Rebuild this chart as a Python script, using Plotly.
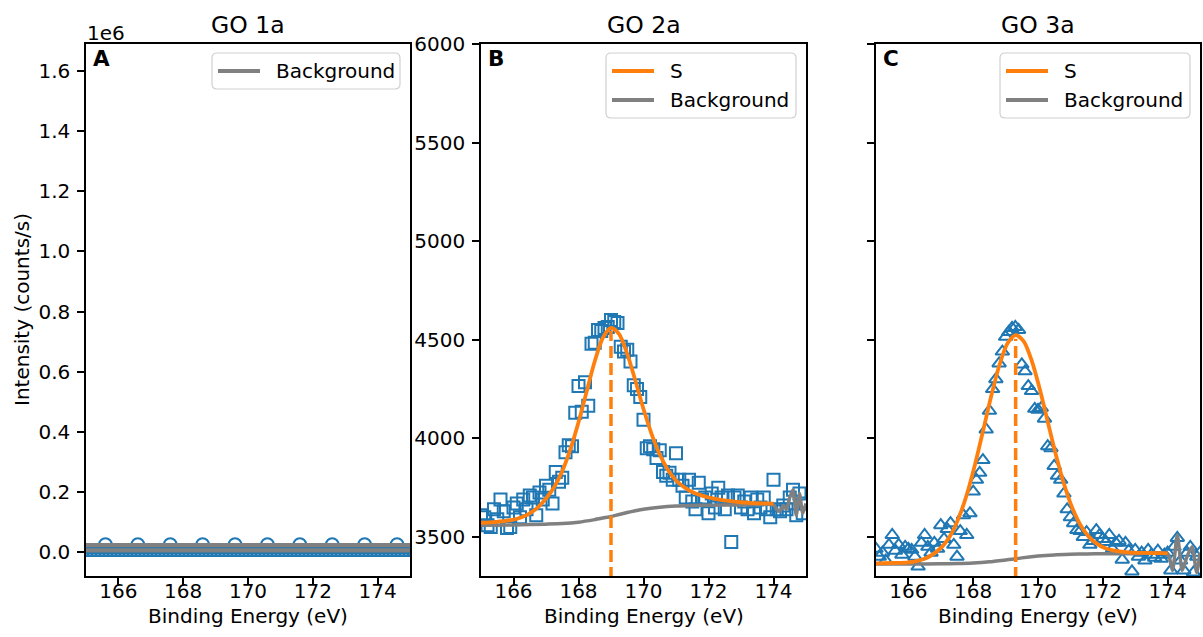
import plotly.graph_objects as go

W, H = 1203, 637
BLUE = "#1f77b4"
ORANGE = "#ff7f0e"
GRAY = "#808080"
FONT = "DejaVu Sans"
TICK_SIZE = 20
TITLE_SIZE = 23.5

# ---------------- data ----------------
titles = ["GO 1a", "GO 2a", "GO 3a"]
panel_letters = ["A", "B", "C"]
x_ticks = [166, 168, 170, 172, 174]
a_tick_vals = [0, 200000, 400000, 600000, 800000, 1000000, 1200000, 1400000, 1600000]
a_tick_text = ["0.0", "0.2", "0.4", "0.6", "0.8", "1.0", "1.2", "1.4", "1.6"]
bc_tick_vals = [3500, 4000, 4500, 5000, 5500, 6000]

# Panel A (GO 1a)
a_marker_energy = [165.6, 166.6, 167.6, 168.6, 169.6, 170.6, 171.6, 172.6, 173.6, 174.6]
a_marker_intensity = [25000, 25000, 25000, 25000, 25000, 25000, 25000, 25000, 25000, 25000]
a_line_energy = [164.0, 176.0]
a_line_intensity = [14000, 14000]
a_base_intensity = [-9000, -9000]
a_background_intensity = [13000, 13000]

# shared energy grid of the measured spectra (B, C)
energy = [165.0, 165.1, 165.2, 165.3, 165.4, 165.5, 165.6, 165.7, 165.8, 165.9,
          166.0, 166.1, 166.2, 166.3, 166.4, 166.5, 166.6, 166.7, 166.8, 166.9,
          167.0, 167.1, 167.2, 167.3, 167.4, 167.5, 167.6, 167.7, 167.8, 167.9,
          168.0, 168.1, 168.2, 168.3, 168.4, 168.5, 168.6, 168.7, 168.8, 168.9,
          169.0, 169.1, 169.2, 169.3, 169.4, 169.5, 169.6, 169.7, 169.8, 169.9,
          170.0, 170.1, 170.2, 170.3, 170.4, 170.5, 170.6, 170.7, 170.8, 170.9,
          171.0, 171.1, 171.2, 171.3, 171.4, 171.5, 171.6, 171.7, 171.8, 171.9,
          172.0, 172.1, 172.2, 172.3, 172.4, 172.5, 172.6, 172.7, 172.8, 172.9,
          173.0, 173.1, 173.2, 173.3, 173.4, 173.5, 173.6, 173.7, 173.8, 173.9,
          174.0, 174.1, 174.2, 174.3, 174.4, 174.5, 174.6, 174.7, 174.8, 174.9, 175.0]

# Panel B (GO 2a)
b_counts = [3610, 3600, 3560, 3550, 3640, 3590, 3690, 3630, 3545, 3550,
            3650, 3670, 3600, 3690, 3640, 3710, 3700, 3610, 3725, 3690,
            3760, 3740, 3670, 3830, 3780, 3800, 3930, 3965, 3960, 4130,
            4265, 4135, 4285, 4165, 4480, 4485, 4550, 4545, 4560, 4565,
            4600, 4590, 4585, 4465, 4440, 4450, 4390, 4270, 4250, 4210,
            4095, 3950, 3960, 3945, 3900, 3940, 3830, 3810, 3825, 3790,
            3925, 3790, 3760, 3700, 3790, 3680, 3640, 3775, 3690, 3700,
            3620, 3720, 3650, 3750, 3700, 3640, 3710, 3475, 3700, 3710,
            3650, 3680, 3640, 3700, 3620, 3690, 3650, 3700, 3640, 3600,
            3790, 3640, 3630, 3660, 3640, 3700, 3740, 3610, 3720, 3620, 3670]
b_fit_energy = [165.0, 165.25, 165.5, 165.75, 166.0, 166.25, 166.5, 166.75, 167.0,
                167.25, 167.5, 167.75, 168.0, 168.25, 168.5, 168.75, 169.0, 169.25,
                169.5, 169.75, 170.0, 170.25, 170.5, 170.75, 171.0, 171.25, 171.5,
                171.75, 172.0, 172.25, 172.5, 172.75, 173.0, 173.25, 173.5, 173.75, 174.0]
b_fit_counts = [3572, 3574, 3577, 3581, 3588, 3600, 3620, 3650, 3695,
                3752, 3833, 3945, 4082, 4237, 4391, 4510, 4560, 4529,
                4428, 4292, 4149, 4022, 3918, 3841, 3786, 3752, 3728,
                3712, 3700, 3692, 3685, 3680, 3676, 3673, 3671, 3670, 3669]
b_bg_energy = [165.0, 166.0, 167.0, 167.5, 168.0, 168.5, 168.75, 169.0, 169.25, 169.5,
               169.75, 170.0, 170.5, 171.0, 171.5, 172.0, 173.0, 174.0,
               174.1, 174.2, 174.3, 174.4, 174.5, 174.6, 174.7, 174.8, 174.9, 175.0]
b_bg_counts = [3560, 3561, 3565, 3568, 3575, 3588, 3596, 3604, 3614, 3624,
               3633, 3641, 3651, 3657, 3660, 3661, 3662, 3662,
               3640, 3630, 3660, 3640, 3700, 3740, 3610, 3720, 3620, 3670]
b_peak_center = 169.0
b_peak_top = 4545

# Panel C (GO 3a)
c_counts = [3440, 3400, 3420, 3380, 3460, 3510, 3430, 3460, 3410, 3450,
            3440, 3435, 3400, 3350, 3470, 3510, 3450, 3420, 3470, 3440,
            3560, 3490, 3540, 3570, 3460, 3400, 3530, 3610, 3510, 3620,
            3730, 3790, 3825, 3890, 4045, 4140, 4250, 4300, 4380, 4440,
            4515, 4540, 4560, 4565, 4550, 4375, 4340, 4265, 4240, 4150,
            4145, 4155, 4100, 3960, 3950, 3860, 3810, 3790, 3720, 3640,
            3600, 3570, 3535, 3530, 3500, 3525, 3460, 3480, 3535, 3510,
            3490, 3475, 3510, 3440, 3470, 3480, 3385, 3470, 3430, 3325,
            3435, 3400, 3420, 3380, 3435, 3410, 3395, 3430, 3390, 3410,
            3420, 3330, 3450, 3495, 3380, 3330, 3420, 3450, 3320, 3400, 3420]
c_fit_energy = [165.0, 165.5, 166.0, 166.5, 167.0, 167.31, 167.56, 167.81, 168.06,
                168.31, 168.56, 168.81, 169.06, 169.31, 169.56, 169.81, 170.06,
                170.31, 170.56, 170.81, 171.06, 171.31, 171.56, 171.81, 172.06,
                172.31, 172.81, 173.31, 173.81, 174.0]
c_fit_counts = [3366, 3368, 3371, 3389, 3444, 3511, 3600, 3719, 3870,
                4042, 4217, 4372, 4482, 4524, 4492, 4392, 4247,
                4078, 3912, 3765, 3647, 3561, 3503, 3466, 3444,
                3432, 3422, 3419, 3418, 3417]
c_bg_energy = [165.0, 166.0, 167.0, 167.5, 168.0, 168.5, 169.0, 169.31, 169.5, 170.0,
               170.5, 171.0, 171.5, 172.0, 173.0, 174.0,
               174.15, 174.3, 174.45, 174.6, 174.75, 174.9, 175.0]
c_bg_counts = [3363, 3363, 3364, 3365, 3368, 3374, 3383, 3389, 3394, 3403,
               3409, 3412, 3414, 3415, 3415, 3415,
               3330, 3510, 3330, 3400, 3450, 3320, 3420]
c_peak_center = 169.31
c_peak_top = 4505

# ---------------- layout helpers ----------------
AXES_PX = [(86, 410), (481, 806), (876, 1200)]
TOP, BOTTOM = 44, 576


def px(x):
    return x / W


def py(y):
    return 1 - y / H


fig = go.Figure()

# ---- Panel A ----
fig.add_trace(go.Scatter(x=a_marker_energy, y=a_marker_intensity, mode="markers",
                         marker=dict(symbol="circle-open", size=12.5, color=BLUE,
                                     line=dict(width=2, color=BLUE)),
                         xaxis="x", yaxis="y", cliponaxis=True))
fig.add_trace(go.Scatter(x=a_line_energy, y=a_background_intensity, mode="lines",
                         line=dict(color=GRAY, width=10), xaxis="x", yaxis="y"))
fig.add_trace(go.Scatter(x=a_line_energy, y=a_line_intensity, mode="lines",
                         line=dict(color=BLUE, width=1.2), xaxis="x", yaxis="y"))
fig.add_trace(go.Scatter(x=a_line_energy, y=a_base_intensity, mode="lines",
                         line=dict(color=BLUE, width=4.5), xaxis="x", yaxis="y"))
fig.add_trace(go.Scatter(x=a_line_energy, y=a_base_intensity, mode="lines",
                         line=dict(color="rgba(255,255,255,0.6)", width=1, dash="1px,3px"),
                         xaxis="x", yaxis="y"))

# ---- Panel B ----
fig.add_trace(go.Scatter(x=energy, y=b_counts, mode="markers",
                         marker=dict(symbol="square-open", size=12, color=BLUE,
                                     line=dict(width=2, color=BLUE)),
                         xaxis="x2", yaxis="y2", cliponaxis=True))
fig.add_trace(go.Scatter(x=b_bg_energy, y=b_bg_counts, mode="lines",
                         line=dict(color=GRAY, width=3.5, shape="spline", smoothing=0.6),
                         xaxis="x2", yaxis="y2"))
fig.add_trace(go.Scatter(x=b_fit_energy, y=b_fit_counts, mode="lines",
                         line=dict(color=ORANGE, width=3.8, shape="spline", smoothing=0.8),
                         xaxis="x2", yaxis="y2"))
fig.add_trace(go.Scatter(x=[b_peak_center, b_peak_center], y=[3200, b_peak_top], mode="lines",
                         line=dict(color=ORANGE, width=3.5, dash="12px,5px"),
                         xaxis="x2", yaxis="y2"))

# ---- Panel C ----
fig.add_trace(go.Scatter(x=energy, y=c_counts, mode="markers",
                         marker=dict(symbol="triangle-up-open", size=12, color=BLUE,
                                     line=dict(width=2, color=BLUE)),
                         xaxis="x3", yaxis="y3", cliponaxis=True))
fig.add_trace(go.Scatter(x=c_bg_energy, y=c_bg_counts, mode="lines",
                         line=dict(color=GRAY, width=3.5, shape="spline", smoothing=0.6),
                         xaxis="x3", yaxis="y3"))
fig.add_trace(go.Scatter(x=c_fit_energy, y=c_fit_counts, mode="lines",
                         line=dict(color=ORANGE, width=3.8, shape="spline", smoothing=0.8),
                         xaxis="x3", yaxis="y3"))
fig.add_trace(go.Scatter(x=[c_peak_center, c_peak_center], y=[3200, c_peak_top], mode="lines",
                         line=dict(color=ORANGE, width=3.5, dash="12px,5px"),
                         xaxis="x3", yaxis="y3"))

# ---------------- axes ----------------
ydom = [py(BOTTOM), py(TOP)]
common = dict(showline=True, linecolor="black", linewidth=1.5, mirror=True,
              ticks="outside", ticklen=7, tickwidth=1.5, tickcolor="black",
              showgrid=False, zeroline=False, automargin=False,
              tickfont=dict(family=FONT, size=TICK_SIZE, color="black"))

layout_axes = {}
for i, (l, r) in enumerate(AXES_PX):
    suffix = "" if i == 0 else str(i + 1)
    layout_axes["xaxis" + suffix] = dict(common, domain=[px(l), px(r)], range=[165, 175],
                                         tickvals=x_ticks, anchor="y" + suffix,
                                         ticklabelstandoff=-11)
layout_axes["yaxis"] = dict(common, domain=ydom, range=[-80000, 1690000],
                            tickvals=a_tick_vals, ticktext=a_tick_text, anchor="x",
                            ticklabelstandoff=3)
layout_axes["yaxis2"] = dict(common, domain=ydom, range=[3302, 6000],
                             tickvals=bc_tick_vals, anchor="x2", ticklabelstandoff=3)
layout_axes["yaxis3"] = dict(common, domain=ydom, range=[3302, 6000],
                             tickvals=bc_tick_vals, anchor="x3", showticklabels=False)

fig.update_layout(width=W, height=H, margin=dict(l=0, r=0, t=0, b=0, autoexpand=False),
                  template="none",
                  paper_bgcolor="white", plot_bgcolor="white", showlegend=False,
                  font=dict(family=FONT, size=TICK_SIZE, color="black"), **layout_axes)

# ---------------- text ----------------
ann = []
for i, (l, r) in enumerate(AXES_PX):
    ann.append(dict(x=px((l + r) / 2), y=py(25), xref="paper", yref="paper",
                    text=titles[i], showarrow=False, xanchor="center", yanchor="middle",
                    font=dict(family=FONT, size=TITLE_SIZE, color="black")))
    ann.append(dict(x=px((l + r) / 2), y=py(616), xref="paper", yref="paper",
                    text="Binding Energy (eV)", showarrow=False, xanchor="center",
                    yanchor="middle", borderpad=0,
                    font=dict(family=FONT, size=TICK_SIZE, color="black")))
    ann.append(dict(x=px(l + 5), y=py(58), xref="paper", yref="paper",
                    text="<b>" + panel_letters[i] + "</b>", showarrow=False,
                    xanchor="left", yanchor="middle",
                    font=dict(family=FONT, size=21.5, color="black")))
ann.append(dict(x=px(22), y=py(310), xref="paper", yref="paper",
                text="Intensity (counts/s)", textangle=-90, showarrow=False,
                xanchor="center", yanchor="middle",
                font=dict(family=FONT, size=TICK_SIZE, color="black")))
ann.append(dict(x=px(85), y=py(33), xref="paper", yref="paper", text="1e6",
                showarrow=False, xanchor="left", yanchor="middle",
                font=dict(family=FONT, size=TICK_SIZE, color="black")))

# ---------------- legends ----------------
shapes = []


def rounded_box(x0, y0, x1, y1, r):
    pts = [
        ("M", [(x0 + r, y0)]), ("L", [(x1 - r, y0)]), ("Q", [(x1, y0), (x1, y0 + r)]),
        ("L", [(x1, y1 - r)]), ("Q", [(x1, y1), (x1 - r, y1)]), ("L", [(x0 + r, y1)]),
        ("Q", [(x0, y1), (x0, y1 - r)]), ("L", [(x0, y0 + r)]), ("Q", [(x0, y0), (x0 + r, y0)]),
    ]
    s = ""
    for cmd, ps in pts:
        s += cmd + " " + " ".join(f"{px(a):.5f},{py(b):.5f}" for a, b in ps) + " "
    return s + "Z"


def legend(right, entries):
    x1 = right - 10
    x0 = x1 - 190 if len(entries) > 1 else x1 - 188
    y0 = 53
    y1 = y0 + 36 + 29 * (len(entries) - 1)
    shapes.append(dict(type="path", path=rounded_box(x0, y0, x1, y1, 5), xref="paper",
                       yref="paper", line=dict(color="#d0d0d0", width=1.2),
                       fillcolor="rgba(255,255,255,0.8)", layer="above"))
    for k, (label, color) in enumerate(entries):
        yy = 71 + 29 * k
        shapes.append(dict(type="line", x0=px(x0 + 6), x1=px(x0 + 48), y0=py(yy), y1=py(yy),
                           xref="paper", yref="paper", line=dict(color=color, width=3.8),
                           layer="above"))
        ann.append(dict(x=px(x0 + 62), y=py(yy), xref="paper", yref="paper", text=label,
                        showarrow=False, xanchor="left", yanchor="middle",
                        font=dict(family=FONT, size=TICK_SIZE, color="black")))


legend(AXES_PX[0][1], [("Background", GRAY)])
legend(AXES_PX[1][1], [("S", ORANGE), ("Background", GRAY)])
legend(AXES_PX[2][1], [("S", ORANGE), ("Background", GRAY)])

fig.update_layout(annotations=ann, shapes=shapes)
fig.write_html("out.html")
